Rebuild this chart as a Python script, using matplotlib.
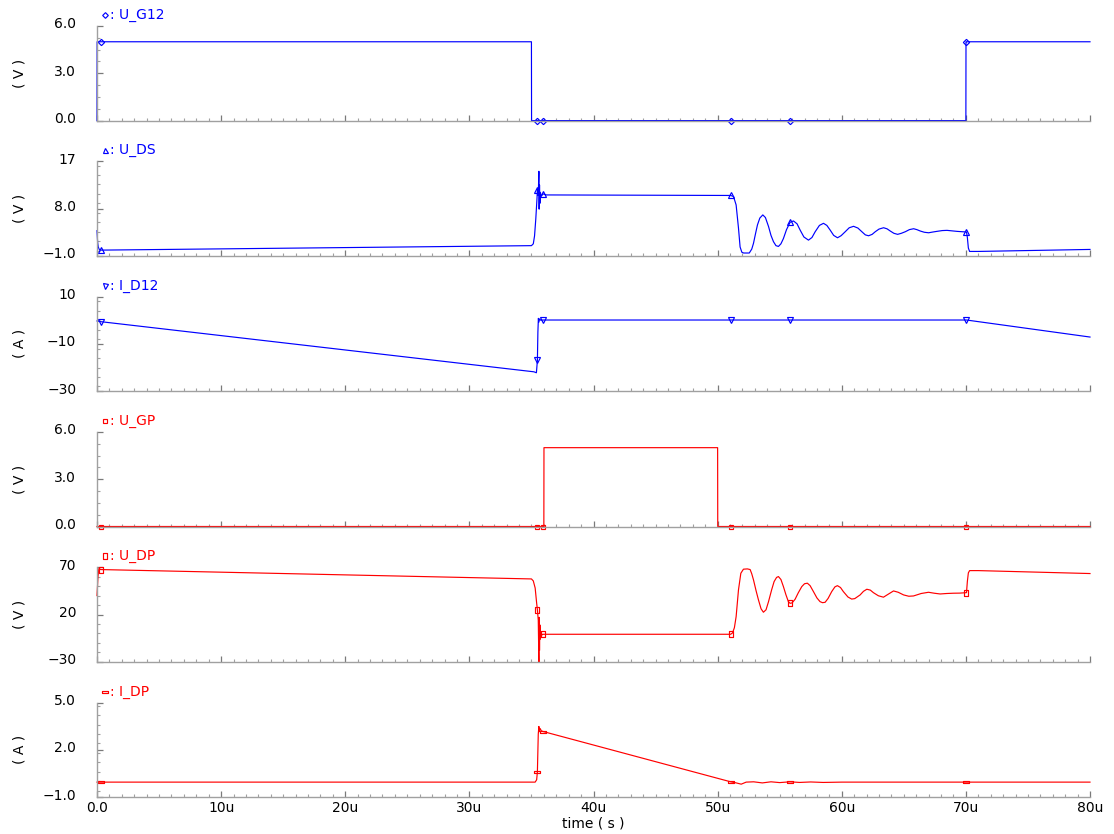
import numpy as np
import matplotlib.pyplot as plt
from matplotlib.path import Path
from matplotlib.ticker import FixedLocator, MultipleLocator
from matplotlib.transforms import ScaledTranslation

# time in microseconds; marker instants shared by every trace
mark_t = [0.3, 35.48, 35.94, 51.05, 55.84, 70.05]

# low-side gate voltage U_G12 (V)
ug12 = np.array([
    (0.0, 0.0), (0.01, 5.0), (0.3, 5.0), (35.0, 5.0), (35.01, 0.0), (35.48, 0.0),
    (35.94, 0.0), (51.05, 0.0), (55.84, 0.0), (70.0, 0.0), (70.01, 5.0),
    (70.05, 5.0), (80.0, 5.0)])

# drain-source voltage U_DS (V)
uds = np.array([
    (0.0, 3.8), (0.05, 1.6), (0.1, 0.7), (0.2, 0.15), (0.3, 0.1), (35.0, 0.95),
    (35.15, 1.3), (35.25, 2.8), (35.35, 6.0), (35.45, 10.0), (35.48, 11.6),
    (35.55, 10.5), (35.6, 15.1), (35.62, 7.9), (35.65, 12.5), (35.68, 9.0),
    (35.72, 11.0), (35.8, 10.4), (35.94, 10.8), (36.2, 10.6), (51.05, 10.5),
    (51.28, 10.3), (51.49, 8.7), (51.68, 4.3), (51.81, 0.7), (51.95, -0.3),
    (52.1, -0.45), (52.55, -0.45), (52.75, 0.3), (52.89, 1.4), (53.05, 3.2),
    (53.21, 4.9), (53.4, 6.2), (53.64, 6.8), (53.85, 6.3), (54.1, 4.6),
    (54.3, 2.9), (54.5, 1.7), (54.7, 0.95), (54.9, 0.8), (55.1, 1.3), (55.3, 2.3),
    (55.55, 4.0), (55.84, 5.4), (56.11, 5.65), (56.4, 5.1), (56.65, 3.9),
    (56.95, 2.6), (57.32, 2.0), (57.6, 2.5), (57.86, 3.6), (58.2, 4.8),
    (58.53, 5.2), (58.8, 4.8), (59.07, 3.9), (59.35, 2.9), (59.66, 2.45),
    (59.95, 2.85), (60.28, 3.6), (60.6, 4.35), (60.95, 4.63), (61.3, 4.3),
    (61.62, 3.6), (61.9, 3.0), (62.16, 2.83), (62.45, 3.1), (62.7, 3.6),
    (63.0, 4.1), (63.37, 4.36), (63.65, 4.15), (63.91, 3.73), (64.2, 3.3),
    (64.5, 3.1), (64.8, 3.3), (65.12, 3.6), (65.45, 4.0), (65.79, 4.17),
    (66.05, 4.0), (66.33, 3.73), (66.65, 3.5), (67.0, 3.4), (67.35, 3.55),
    (67.67, 3.67), (68.1, 3.82), (68.48, 3.86), (68.9, 3.76), (69.28, 3.67),
    (69.7, 3.6), (70.05, 3.55), (70.12, 2.5), (70.2, 0.5), (70.3, -0.15),
    (71.0, -0.15), (80.0, 0.23)])

# low-side drain current I_D12 (A)
id12 = np.array([
    (0.0, -0.3), (0.3, -0.6), (35.2, -21.8), (35.4, -22.2), (35.48, -17.0),
    (35.52, -5.0), (35.56, 0.8), (35.6, -0.8), (35.66, 0.6), (35.75, 0.0),
    (35.94, 0.1), (51.05, 0.1), (55.84, 0.1), (70.05, 0.1), (80.0, -7.1)])

# high-side gate voltage U_GP (V)
ugp = np.array([
    (0.0, 0.0), (0.3, 0.0), (35.48, 0.0), (35.94, 0.0), (36.0, 0.0), (36.01, 5.0),
    (50.0, 5.0), (50.01, 0.0), (51.05, 0.0), (55.84, 0.0), (70.05, 0.0), (80.0, 0.0)])

# high-side drain voltage U_DP (V)
udp = np.array([
    (0.0, 40.0), (0.08, 60.0), (0.15, 68.5), (0.3, 67.5), (35.0, 57.6),
    (35.15, 55.5), (35.3, 48.0), (35.42, 32.0), (35.48, 25.0), (35.55, 14.0),
    (35.6, -30.5), (35.62, 17.0), (35.65, -18.0), (35.68, 9.0), (35.72, -6.0),
    (35.78, 1.0), (35.85, -1.5), (35.94, -0.9), (51.05, -0.9), (51.2, 0.5),
    (51.35, 6.0), (51.49, 17.7), (51.68, 46.0), (51.87, 63.6), (52.08, 67.9),
    (52.4, 68.2), (52.62, 67.5), (52.75, 63.0), (52.89, 56.6), (53.1, 45.0),
    (53.29, 35.4), (53.5, 26.0), (53.69, 22.4), (53.9, 25.0), (54.1, 33.6),
    (54.35, 46.0), (54.55, 54.8), (54.75, 59.2), (54.9, 60.1), (55.1, 57.0),
    (55.3, 49.5), (55.5, 41.0), (55.7, 33.6), (55.84, 31.8), (56.0, 32.3),
    (56.24, 36.1), (56.5, 43.0), (56.78, 49.5), (57.0, 52.5), (57.23, 53.1),
    (57.45, 50.5), (57.72, 44.2), (58.0, 37.5), (58.25, 33.6), (58.45, 32.5),
    (58.66, 32.9), (58.9, 37.0), (59.19, 44.2), (59.45, 49.2), (59.65, 50.5),
    (59.9, 48.5), (60.13, 44.2), (60.5, 38.5), (60.8, 36.3), (61.05, 36.8),
    (61.48, 40.7), (61.75, 44.5), (62.02, 46.7), (62.3, 45.8), (62.55, 43.1),
    (62.95, 39.8), (63.36, 38.3), (63.75, 41.5), (64.17, 44.9), (64.55, 43.5),
    (64.98, 40.7), (65.4, 39.3), (65.78, 39.6), (66.4, 42.2), (66.99, 43.5),
    (67.45, 42.5), (67.93, 41.7), (68.45, 42.2), (69.0, 42.5), (69.5, 42.6),
    (70.05, 43.1), (70.12, 55.0), (70.2, 64.0), (70.3, 66.4), (71.0, 66.4),
    (80.0, 63.3)])

# high-side drain current I_DP (A)
idp = np.array([
    (0.0, -0.05), (0.3, -0.05), (35.3, -0.05), (35.42, 0.1), (35.48, 0.6),
    (35.55, 3.0), (35.6, 3.48), (35.63, 3.15), (35.7, 3.35), (35.8, 3.2),
    (35.94, 3.16), (51.05, -0.03), (51.5, -0.1), (51.9, -0.18), (52.3, -0.05),
    (52.9, -0.03), (53.6, -0.1), (54.3, -0.03), (55.0, -0.08), (55.84, -0.03),
    (56.6, -0.07), (57.5, -0.04), (58.5, -0.07), (60.0, -0.05), (70.05, -0.05),
    (80.0, -0.05)])

x_ticks = [0, 10, 20, 30, 40, 50, 60, 70, 80]
x_labels = ["0.0", "10u", "20u", "30u", "40u", "50u", "60u", "70u", "80u"]

# small rectangles used as markers for the U_DP / I_DP traces
tall_box = Path([(-0.3, -0.5), (0.3, -0.5), (0.3, 0.5), (-0.3, 0.5), (-0.3, -0.5)])
flat_box = Path([(-0.5, -0.2), (0.5, -0.2), (0.5, 0.2), (-0.5, 0.2), (-0.5, -0.2)])

BLUE = "#0000ff"
RED = "#ff0000"

panels = [
    ("U_G12", ug12, BLUE, "D", 3.2, "V", [0.0, 3.0, 6.0], ["0.0", "3.0", "6.0"], 0.75),
    ("U_DS", uds, BLUE, "^", 4.0, "V", [-1.0, 8.0, 17.0], ["\u22121.0", "8.0", "17"], 1.8),
    ("I_D12", id12, BLUE, "v", 4.0, "A", [-30, -10, 10], ["\u221230", "\u221210", "10"], 4),
    ("U_GP", ugp, RED, "s", 3.3, "V", [0.0, 3.0, 6.0], ["0.0", "3.0", "6.0"], 0.75),
    ("U_DP", udp, RED, tall_box, 4.5, "V", [-30, 20, 70], ["\u221230", "20", "70"], 10),
    ("I_DP", idp, RED, flat_box, 5.0, "A", [-1.0, 2.0, 5.0], ["\u22121.0", "2.0", "5.0"], 0.6),
]

plt.rcParams["font.family"] = "DejaVu Sans"
plt.rcParams["font.size"] = 10

W, H = 1114, 834
fig = plt.figure(figsize=(W / 100, H / 100), dpi=100)

left_px, right_px = 97, 1090
top0_px, pitch_px, height_px = 26, 135.3, 94.6
lift = ScaledTranslation(0, 3 / 100, fig.dpi_scale_trans)

for i, (name, data, color, mk, ms, unit, yt, ytl, minor) in enumerate(panels):
    top = top0_px + i * pitch_px
    ax = fig.add_axes([left_px / W, 1 - (top + height_px) / H,
                       (right_px - left_px) / W, height_px / H])
    t, v = data[:, 0], data[:, 1]
    idx = [int(np.argmin(np.abs(t - m))) for m in mark_t]
    ax.plot(t, v, color=color, lw=0.85, marker=mk, ms=ms, mfc="none",
            mec=color, mew=0.85, markevery=idx, clip_on=False)

    ax.set_xlim(0, 80)
    ax.set_ylim(yt[0], yt[-1])
    for s in ("top", "right"):
        ax.spines[s].set_visible(False)
    for s in ("left", "bottom"):
        ax.spines[s].set_color("#a0a0a0")
        ax.spines[s].set_linewidth(1.0)

    ax.xaxis.set_major_locator(FixedLocator(x_ticks))
    ax.xaxis.set_minor_locator(MultipleLocator(1))
    ax.yaxis.set_major_locator(FixedLocator(yt))
    ax.yaxis.set_minor_locator(MultipleLocator(minor))
    ax.set_yticklabels(ytl)
    ax.tick_params(which="major", direction="in", length=4.5, width=0.9,
                   color="#7a7a7a", labelsize=10)
    ax.tick_params(which="minor", direction="in", length=2.5, width=0.8,
                   color="#a0a0a0")
    ax.tick_params(axis="y", pad=15)
    for lab in ax.get_yticklabels():
        lab.set_transform(lab.get_transform() + lift)

    if i == len(panels) - 1:
        ax.set_xticklabels(x_labels)
        ax.tick_params(axis="x", pad=3)
        ax.set_xlabel("time ( s )")
        ax.xaxis.set_label_coords(0.5, -0.2)
    else:
        ax.set_xticklabels([])

    ax.set_ylabel("( %s )" % unit)
    ax.yaxis.set_label_coords(-0.071, 0.5)

    # trace legend above the top-left corner
    ax.plot([0.008], [1.115], marker=mk, ms=ms * 0.9, mfc="none", mec=color,
            mew=0.85, transform=ax.transAxes, clip_on=False)
    ax.text(0.013, 1.115, ": " + name, color=color, transform=ax.transAxes,
            va="center", ha="left", fontsize=10)

fig.savefig("out.png", dpi=100)
